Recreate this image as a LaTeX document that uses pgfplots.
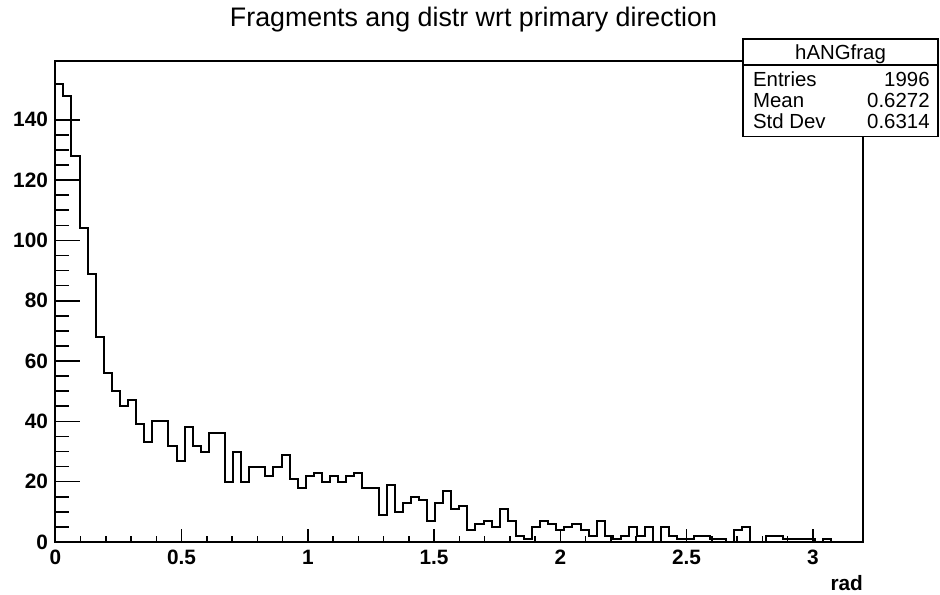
\documentclass[border=0pt]{standalone}
\usepackage{pgfplots}
\pgfplotsset{compat=1.18}
\usepackage{fontspec}
\setmainfont{Liberation Sans}
\begin{document}
\begin{tikzpicture}
\pgfplotsset{
  hbase/.style={
    width=404pt, height=240.65pt, scale only axis,
    xmin=0, xmax=3.2, ymin=0, ymax=159.6,
    axis line style={line width=0.9pt, black},
    tick align=inside,
    tick pos=left,
    tick style={line width=0.8pt, black},
    ticklabel style={font=\fontsize{10.4}{12}\selectfont\bfseries},
  }
}
\path[use as bounding box, fill=white] (-27.65pt,-26pt) rectangle (442.35pt,271pt);
\begin{axis}[hbase,
  xtick=\empty,
  ytick={0,20,40,60,80,100,120,140},
  yticklabels={0,20,40,60,80,100,120,140},
  minor y tick num=3,
  major tick length=12.5pt, minor tick length=7pt,
  yticklabel style={inner sep=0pt, xshift=-3.5pt},
]
\addplot[const plot, black, line width=1pt] table {
x y
0 152
0.032 148
0.064 128
0.096 104
0.128 89
0.16 68
0.192 56
0.224 50
0.256 45
0.288 47
0.32 39
0.352 33
0.384 40
0.416 40
0.448 32
0.48 27
0.512 38
0.544 32
0.576 30
0.608 36
0.64 36
0.672 20
0.704 30
0.736 20
0.768 25
0.8 25
0.832 22
0.864 25
0.896 29
0.928 21
0.96 18
0.992 22
1.024 23
1.056 20
1.088 22
1.12 20
1.152 22
1.184 23
1.216 18
1.248 18
1.28 9
1.312 19
1.344 10
1.376 13
1.408 15
1.44 14
1.472 7
1.504 13
1.536 17
1.568 11
1.6 12
1.632 4
1.664 6
1.696 7
1.728 5
1.76 11
1.792 7
1.824 2
1.856 1
1.888 5
1.92 7
1.952 6
1.984 4
2.016 5
2.048 6
2.08 4
2.112 2
2.144 7
2.176 2
2.208 1
2.24 2
2.272 5
2.304 2
2.336 5
2.368 0
2.4 5
2.432 2
2.464 1
2.496 1
2.528 2
2.56 2
2.592 1
2.624 1
2.656 0
2.688 4
2.72 5
2.752 0
2.784 0
2.816 2
2.848 2
2.88 1
2.912 1
2.944 1
2.976 1
3.008 0
3.04 1
3.072 0
3.104 0
3.136 0
3.168 0
3.2 0
};
\end{axis}
\begin{axis}[hbase,
  ytick=\empty,
  xtick={0,0.5,1,1.5,2,2.5,3},
  xticklabels={0,0.5,1,1.5,2,2.5,3},
  minor x tick num=4,
  major tick length=6.65pt, minor tick length=3pt,
  xticklabel style={inner sep=0pt, yshift=-4pt},
  xlabel={rad},
  xlabel style={at={(axis description cs:1,0)}, anchor=base east, inner sep=0pt, yshift=-24pt, font=\fontsize{10.4}{12}\selectfont\bfseries},
]
\end{axis}
\node[anchor=base, inner sep=0pt, font=\fontsize{13.4}{16}\selectfont] at (209.1pt,257.8pt) {Fragments ang distr wrt primary direction};
\draw[fill=white, line width=0.8pt] (343.85pt,202.65pt) rectangle (441.35pt,251.5pt);
\draw[line width=0.8pt] (343.85pt,238.5pt) -- (441.35pt,238.5pt);
\begin{scope}[every node/.style={inner sep=0pt, font=\fontsize{10.2}{12}\selectfont}]
\node[anchor=base] at (392.6pt,241.35pt) {hANGfrag};
\node[anchor=base west] at (348.7pt,227.85pt) {Entries};
\node[anchor=base east] at (437.35pt,227.85pt) {1996};
\node[anchor=base west] at (348.7pt,217.35pt) {Mean};
\node[anchor=base east] at (437.35pt,217.35pt) {0.6272};
\node[anchor=base west] at (348.7pt,206.85pt) {Std Dev};
\node[anchor=base east] at (437.35pt,206.85pt) {0.6314};
\end{scope}
\end{tikzpicture}
\end{document}
